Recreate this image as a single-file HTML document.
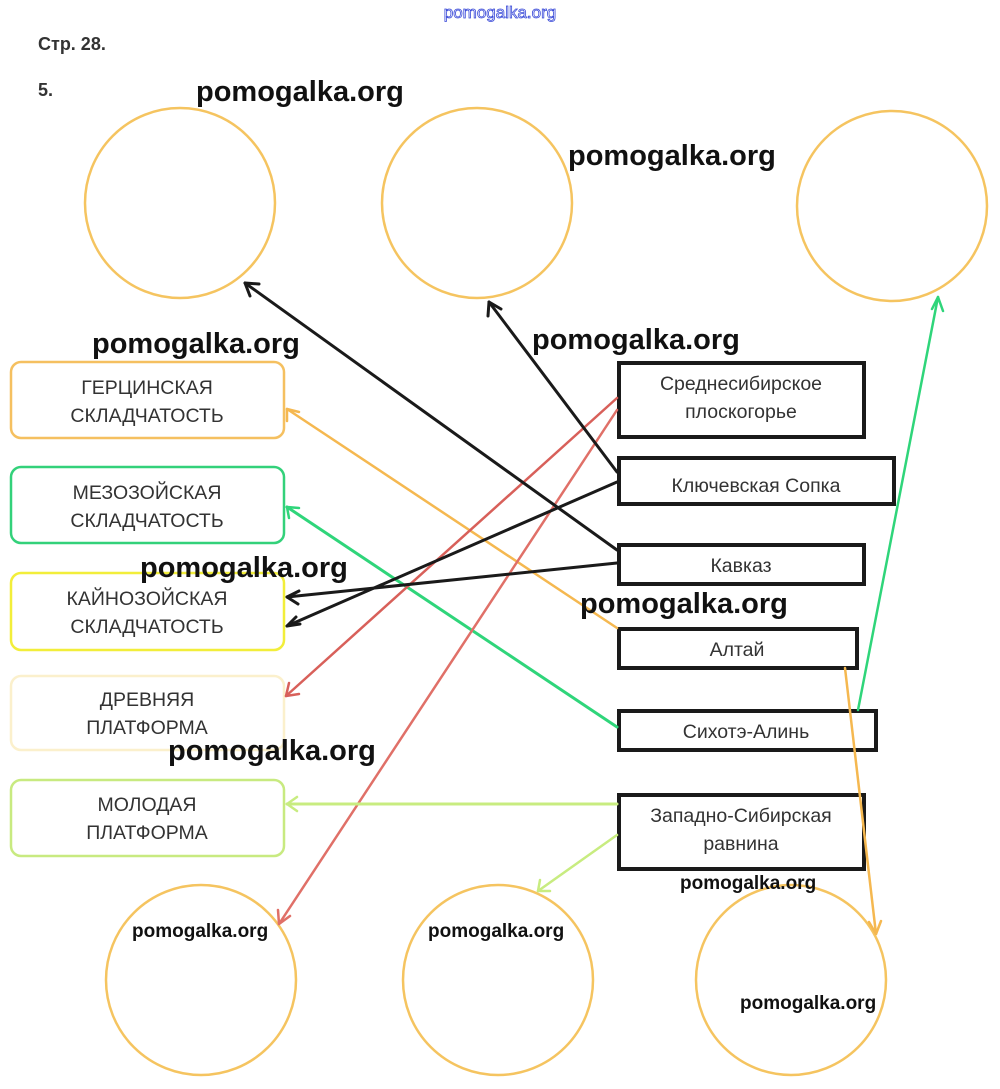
<!DOCTYPE html>
<html><head><meta charset="utf-8"><style>
html,body{margin:0;padding:0;background:#fff;}
svg{display:block;}
.wm{font-family:"Liberation Sans",sans-serif;font-weight:bold;fill:#111;}
.lb{font-family:"Liberation Sans",sans-serif;font-size:19.5px;fill:#333;text-anchor:middle;}
</style></head><body>
<svg width="1000" height="1089" viewBox="0 0 1000 1089" xmlns="http://www.w3.org/2000/svg">

<text x="500" y="18" text-anchor="middle" font-family="Liberation Sans,sans-serif" font-size="17" fill="#fff" stroke="#3a4ad8" stroke-width="0.8">pomogalka.org</text>
<text x="38" y="50" font-family="Liberation Sans,sans-serif" font-weight="bold" font-size="18" fill="#333">Стр. 28.</text>
<text x="38" y="96" font-family="Liberation Sans,sans-serif" font-weight="bold" font-size="18" fill="#333">5.</text>

<g fill="none" stroke="#f5c460" stroke-width="2.5">
<circle cx="180" cy="203" r="95"/>
<circle cx="477" cy="203" r="95"/>
<circle cx="892" cy="206" r="95"/>
<circle cx="201" cy="980" r="95"/>
<circle cx="498" cy="980" r="95"/>
<circle cx="791" cy="980" r="95"/>
</g>

<g fill="#fff" stroke-width="2.5">
<rect x="11" y="362" width="273" height="76" rx="10" stroke="#f5c060"/>
<rect x="11" y="467" width="273" height="76" rx="10" stroke="#33d17a"/>
<rect x="11" y="573" width="273" height="77" rx="10" stroke="#f2ee3a"/>
<rect x="11" y="676" width="273" height="74" rx="10" stroke="#fbf0cc"/>
<rect x="11" y="780" width="273" height="76" rx="10" stroke="#c8ea80"/>
</g>
<text class="lb" x="147" y="394">ГЕРЦИНСКАЯ</text><text class="lb" x="147" y="422">СКЛАДЧАТОСТЬ</text>
<text class="lb" x="147" y="499">МЕЗОЗОЙСКАЯ</text><text class="lb" x="147" y="527">СКЛАДЧАТОСТЬ</text>
<text class="lb" x="147" y="605">КАЙНОЗОЙСКАЯ</text><text class="lb" x="147" y="633">СКЛАДЧАТОСТЬ</text>
<text class="lb" x="147" y="706">ДРЕВНЯЯ</text><text class="lb" x="147" y="734">ПЛАТФОРМА</text>
<text class="lb" x="147" y="811">МОЛОДАЯ</text><text class="lb" x="147" y="839">ПЛАТФОРМА</text>

<g fill="#fff" stroke="#1a1a1a" stroke-width="4">
<rect x="619" y="363" width="245" height="74"/>
<rect x="619" y="458" width="275" height="46"/>
<rect x="619" y="545" width="245" height="39"/>
<rect x="619" y="629" width="238" height="39"/>
<rect x="619" y="711" width="257" height="39"/>
<rect x="619" y="795" width="245" height="74"/>
</g>
<text class="lb" x="741" y="390">Среднесибирское</text><text class="lb" x="741" y="418">плоскогорье</text>
<text class="lb" x="756" y="492">Ключевская Сопка</text>
<text class="lb" x="741" y="572">Кавказ</text>
<text class="lb" x="737" y="656">Алтай</text>
<text class="lb" x="746" y="738">Сихотэ-Алинь</text>
<text class="lb" x="741" y="822">Западно-Сибирская</text><text class="lb" x="741" y="850">равнина</text>

<g fill="none" stroke-linecap="round">
<line x1="617" y1="628" x2="287" y2="409" stroke="#f5b850" stroke-width="2.5"/>
<line x1="617" y1="727" x2="287" y2="507" stroke="#2fd57a" stroke-width="3"/>
<line x1="617" y1="398" x2="286" y2="696" stroke="#d8605a" stroke-width="2.5"/>
<line x1="617" y1="410" x2="279" y2="924" stroke="#e07068" stroke-width="2.5"/>
<line x1="617" y1="550" x2="245" y2="283" stroke="#1a1a1a" stroke-width="3"/>
<line x1="617" y1="472" x2="489" y2="302" stroke="#1a1a1a" stroke-width="3"/>
<line x1="617" y1="482" x2="287" y2="626" stroke="#1a1a1a" stroke-width="3"/>
<line x1="617" y1="563" x2="287" y2="597" stroke="#1a1a1a" stroke-width="3"/>
<line x1="858" y1="710" x2="938" y2="297" stroke="#2fd57a" stroke-width="2.5"/>
<line x1="845" y1="668" x2="876" y2="934" stroke="#f5b850" stroke-width="2.5"/>
<line x1="617" y1="804" x2="287" y2="804" stroke="#c8ec80" stroke-width="3"/>
<line x1="617" y1="835" x2="538" y2="891" stroke="#c8ec80" stroke-width="2.5"/>
</g>
<g fill="none" stroke-width="3" stroke-linecap="round" stroke-linejoin="round">
<path d="M250,296 L245,283 L259,284" stroke="#1a1a1a"/>
<path d="M488,316 L489,302 L501,309" stroke="#1a1a1a"/>
<path d="M300,624 L287,626 L296,617" stroke="#1a1a1a"/>
<path d="M299,591 L287,597 L298,604" stroke="#1a1a1a"/>
<path d="M287,421 L287,409 L299,412" stroke="#f5b850" stroke-width="2.5"/>
<path d="M289,518 L287,507 L299,508" stroke="#2fd57a" stroke-width="2.5"/>
<path d="M289,683 L286,696 L299,694" stroke="#d8605a" stroke-width="2.5"/>
<path d="M278,910 L279,924 L290,916" stroke="#e07068" stroke-width="2.5"/>
<path d="M932,309 L938,297 L943,311" stroke="#2fd57a" stroke-width="2.5"/>
<path d="M869,922 L876,934 L881,921" stroke="#f5b850" stroke-width="2.5"/>
<path d="M297,797 L287,804 L297,811" stroke="#c8ec80" stroke-width="2.5"/>
<path d="M540,880 L538,891 L550,891" stroke="#c8ec80" stroke-width="2.5"/>
</g>

<text class="wm" x="196" y="101" font-size="29">pomogalka.org</text>
<text class="wm" x="568" y="165" font-size="29">pomogalka.org</text>
<text class="wm" x="92" y="353" font-size="29">pomogalka.org</text>
<text class="wm" x="532" y="349" font-size="29">pomogalka.org</text>
<text class="wm" x="140" y="577" font-size="29">pomogalka.org</text>
<text class="wm" x="580" y="613" font-size="29">pomogalka.org</text>
<text class="wm" x="168" y="760" font-size="29">pomogalka.org</text>
<text class="wm" x="680" y="889" font-size="19">pomogalka.org</text>
<text class="wm" x="132" y="937" font-size="19">pomogalka.org</text>
<text class="wm" x="428" y="937" font-size="19">pomogalka.org</text>
<text class="wm" x="740" y="1009" font-size="19">pomogalka.org</text>
</svg>
</body></html>
